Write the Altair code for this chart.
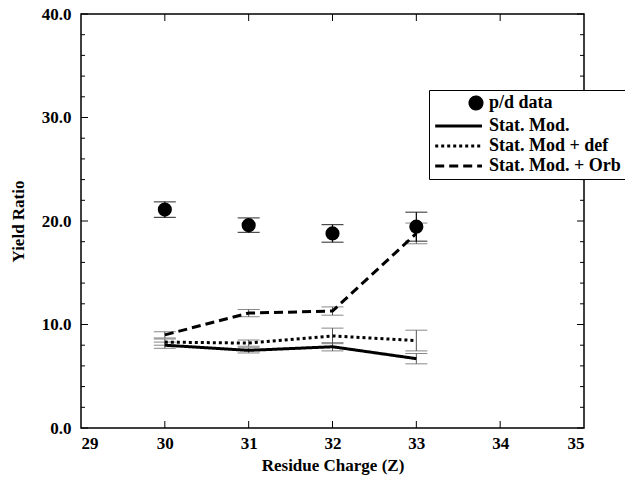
import altair as alt
import pandas as pd

# Residue charge Z and yield ratios
z_values = [30, 31, 32, 33]
pd_ratio = [21.1, 19.6, 18.8, 19.45]
pd_err = [0.75, 0.7, 0.85, 1.4]
stat_mod = [8.0, 7.5, 7.85, 6.7]
stat_mod_err = [0.3, 0.25, 0.4, 0.5]
stat_def = [8.3, 8.2, 8.9, 8.45]
stat_def_err = [0.3, 0.3, 0.75, 1.0]
stat_orb = [9.0, 11.1, 11.3, 18.8]
stat_orb_err = [0.3, 0.35, 0.4, 1.0]

series_names = ["p/d data", "Stat. Mod.", "Stat. Mod + def", "Stat. Mod. + Orb"]
dash_styles = [[1, 0], [1, 0], [3, 3], [9, 5]]

# axis ticks (drawn inward)
y_major = [0, 10, 20, 30, 40]
y_minor = [v for v in range(2, 40, 2) if v % 10 != 0]
x_major = [30, 31, 32, 33, 34]

W, H = 503, 414
FONT = "Liberation Serif"

pts = pd.DataFrame({"z": z_values, "ratio": pd_ratio,
                    "lo": [v - e for v, e in zip(pd_ratio, pd_err)],
                    "hi": [v + e for v, e in zip(pd_ratio, pd_err)]})

rows = []
for name, vals, errs in [("Stat. Mod.", stat_mod, stat_mod_err),
                         ("Stat. Mod + def", stat_def, stat_def_err),
                         ("Stat. Mod. + Orb", stat_orb, stat_orb_err)]:
    for zz, v, e in zip(z_values, vals, errs):
        rows.append({"z": zz, "ratio": v, "lo": v - e, "hi": v + e, "series": name})
models = pd.DataFrame(rows)

xscale = alt.Scale(domain=[29, 35], nice=False)
yscale = alt.Scale(domain=[0, 40], nice=False)

x_enc = alt.X("z:Q", scale=xscale,
              axis=alt.Axis(title="Residue Charge (Z)", values=[29, 30, 31, 32, 33, 34, 35],
                            format="d", ticks=False, domain=False, grid=False,
                            labelPadding=7, titlePadding=6))
y_enc = alt.Y("ratio:Q", scale=yscale,
              axis=alt.Axis(title="Yield Ratio", values=y_major, format=".1f",
                            ticks=False, domain=False, grid=False,
                            labelPadding=10, titlePadding=14))

base_models = alt.Chart(models)

model_bars = base_models.mark_rule(color="#555555", strokeWidth=1).encode(
    x=alt.X("z:Q", scale=xscale), y=alt.Y("lo:Q", scale=yscale), y2="hi:Q")
model_caps_lo = base_models.mark_tick(color="#555555", orient="horizontal", size=22, thickness=1).encode(
    x=alt.X("z:Q", scale=xscale), y=alt.Y("lo:Q", scale=yscale))
model_caps_hi = base_models.mark_tick(color="#555555", orient="horizontal", size=22, thickness=1).encode(
    x=alt.X("z:Q", scale=xscale), y=alt.Y("hi:Q", scale=yscale))

# legend glyphs: a filled dot for the measured data, a line sample for the models
circle_path = "M -1,0 A 1,1 0 1,1 1,0 A 1,1 0 1,1 -1,0 Z"
line_path = "M -6.8,0 L 1,0"

lines = base_models.mark_line(color="black", strokeWidth=3).encode(
    x=x_enc, y=y_enc,
    strokeDash=alt.StrokeDash(
        "series:N",
        scale=alt.Scale(domain=series_names, range=dash_styles),
        legend=alt.Legend(
            title=None, orient="none", legendX=348, legendY=76,
            strokeColor="black", fillColor="white", padding=4,
            labelFont=FONT, labelFontWeight="bold", labelFontSize=18, labelColor="black",
            labelOffset=4, rowPadding=2, symbolSize=144, symbolStrokeWidth=3,
            symbolOffset=34, symbolStrokeColor="black",
            symbolType=alt.ExprRef(expr=f"datum.value == 'p/d data' ? '{circle_path}' : '{line_path}'"),
            symbolFillColor=alt.ExprRef(expr="datum.value == 'p/d data' ? 'black' : 'transparent'"),
        ),
    ),
)

base_pts = alt.Chart(pts)
pd_bars = base_pts.mark_rule(color="black", strokeWidth=1.2).encode(
    x=alt.X("z:Q", scale=xscale), y=alt.Y("lo:Q", scale=yscale), y2="hi:Q")
pd_caps_lo = base_pts.mark_tick(color="black", orient="horizontal", size=22, thickness=1.2).encode(
    x=alt.X("z:Q", scale=xscale), y=alt.Y("lo:Q", scale=yscale))
pd_caps_hi = base_pts.mark_tick(color="black", orient="horizontal", size=22, thickness=1.2).encode(
    x=alt.X("z:Q", scale=xscale), y=alt.Y("hi:Q", scale=yscale))
pd_points = base_pts.mark_circle(color="black", size=200, opacity=1).encode(
    x=alt.X("z:Q", scale=xscale), y=alt.Y("ratio:Q", scale=yscale))

# inward tick marks on all four sides
ymaj = pd.DataFrame({"v": y_major})
ymin = pd.DataFrame({"v": y_minor})
xmaj = pd.DataFrame({"v": x_major})
tick_style = dict(color="black", strokeWidth=1)
ticks = [
    alt.Chart(ymaj).mark_rule(**tick_style).encode(y=alt.Y("v:Q", scale=yscale), x=alt.value(0), x2=alt.value(7)),
    alt.Chart(ymin).mark_rule(**tick_style).encode(y=alt.Y("v:Q", scale=yscale), x=alt.value(0), x2=alt.value(4)),
    alt.Chart(ymaj).mark_rule(**tick_style).encode(y=alt.Y("v:Q", scale=yscale), x=alt.value(W - 7), x2=alt.value(W)),
    alt.Chart(ymin).mark_rule(**tick_style).encode(y=alt.Y("v:Q", scale=yscale), x=alt.value(W - 4), x2=alt.value(W)),
    alt.Chart(xmaj).mark_rule(**tick_style).encode(x=alt.X("v:Q", scale=xscale), y=alt.value(H - 7), y2=alt.value(H)),
    alt.Chart(xmaj).mark_rule(**tick_style).encode(x=alt.X("v:Q", scale=xscale), y=alt.value(0), y2=alt.value(7)),
]

chart = alt.layer(
    *ticks, model_bars, model_caps_lo, model_caps_hi, lines,
    pd_bars, pd_caps_lo, pd_caps_hi, pd_points,
).properties(
    width=W, height=H,
    autosize=alt.AutoSizeParams(type="none"),
    padding={"left": 81, "top": 14, "right": 41, "bottom": 53},
    background="white",
).configure_view(
    stroke="black", strokeWidth=1.5,
).configure_axis(
    labelFont=FONT, labelFontWeight="bold", labelFontSize=17, labelColor="black",
    titleFont=FONT, titleFontWeight="bold", titleFontSize=17, titleColor="black",
)

chart.save("out.html", embed_options={"renderer": "svg", "actions": False})
